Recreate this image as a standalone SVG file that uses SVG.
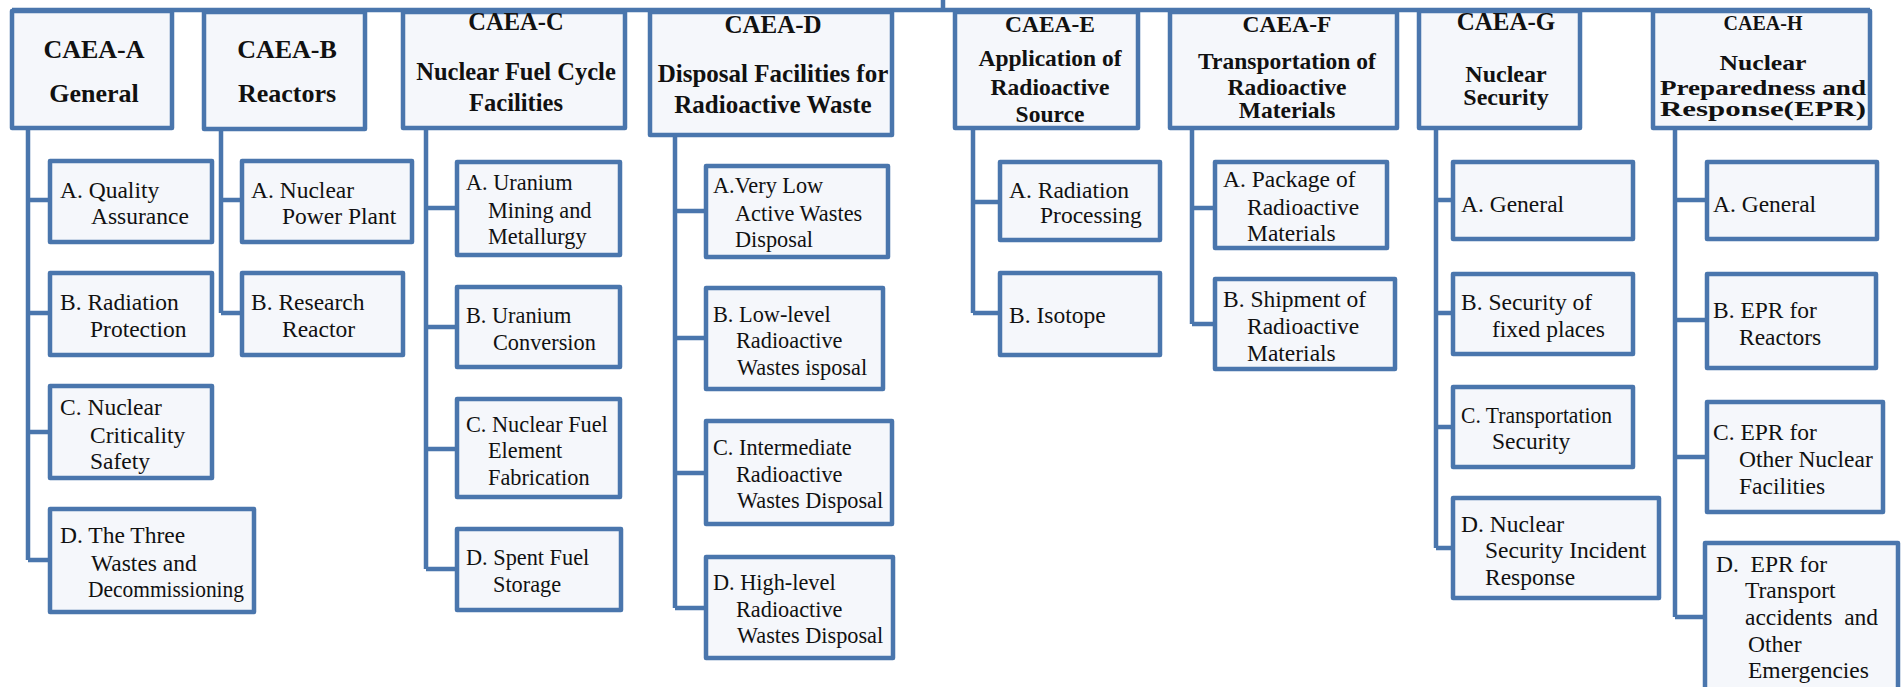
<svg xmlns="http://www.w3.org/2000/svg" width="1903" height="687" viewBox="0 0 1903 687">
<style>
.bx{fill:#f5f7fb;stroke:#4a76ad;stroke-width:4.5;stroke-linejoin:round}
.cn{fill:none;stroke:#4a76ad;stroke-width:4.5;stroke-linejoin:round}
.h{font-family:"Liberation Serif","Times New Roman",serif;font-weight:bold;fill:#111;text-anchor:middle}
.t{font-family:"Liberation Serif","Times New Roman",serif;font-size:23.5px;fill:#111}
.s{font-size:22.3px}
</style>
<rect width="1903" height="687" fill="#ffffff"/>
<g id="connectors">
<path class="cn" d="M943,0V10M12,10H1870"/>
<path class="cn" d="M28,128V560M28,200H50M28,313H50M28,432H50M28,560H50"/>
<path class="cn" d="M221,129V313M221,200H242M221,313H242"/>
<path class="cn" d="M426,128V569M426,208H457M426,327H457M426,449H457M426,569H457"/>
<path class="cn" d="M675,135V608M675,211H706M675,338H706M675,473H706M675,608H706"/>
<path class="cn" d="M973,128V313M973,202H1000M973,313H1000"/>
<path class="cn" d="M1192,128V324M1192,208H1215M1192,324H1215"/>
<path class="cn" d="M1436,128V548M1436,200H1453M1436,313H1453M1436,427H1453M1436,548H1453"/>
<path class="cn" d="M1675,128V617M1675,200H1707M1675,320H1707M1675,457H1707M1675,617H1707"/>
</g>
<g id="caea-a">
<rect class="bx" x="12" y="11" width="160" height="117"/>
<text class="h" font-size="26" x="94" y="58">CAEA-A</text>
<text class="h" font-size="26" x="94" y="102">General</text>
</g>
<g id="caea-b">
<rect class="bx" x="204" y="12" width="161" height="117"/>
<text class="h" font-size="26" x="287" y="58">CAEA-B</text>
<text class="h" font-size="26" x="287" y="102">Reactors</text>
</g>
<g id="caea-c">
<rect class="bx" x="403" y="12" width="222" height="116"/>
<text class="h" font-size="24.5" x="516" y="30">CAEA-C</text>
<text class="h" font-size="24.5" x="516" y="80">Nuclear Fuel Cycle</text>
<text class="h" font-size="24.5" x="516" y="111">Facilities</text>
</g>
<g id="caea-d">
<rect class="bx" x="650" y="12" width="242" height="123"/>
<text class="h" font-size="25" x="773" y="33">CAEA-D</text>
<text class="h" font-size="25" x="773" y="82">Disposal Facilities for</text>
<text class="h" font-size="25" x="773" y="113">Radioactive Waste</text>
</g>
<g id="caea-e">
<rect class="bx" x="955" y="12" width="183" height="116"/>
<text class="h" font-size="23.5" x="1050" y="32">CAEA-E</text>
<text class="h" font-size="23.5" x="1050" y="66">Application of</text>
<text class="h" font-size="23.5" x="1050" y="95">Radioactive</text>
<text class="h" font-size="23.5" x="1050" y="122">Source</text>
</g>
<g id="caea-f">
<rect class="bx" x="1170" y="12" width="227" height="116"/>
<text class="h" font-size="23.5" x="1287" y="32">CAEA-F</text>
<text class="h" font-size="23.5" x="1287" y="69">Transportation of</text>
<text class="h" font-size="23.5" x="1287" y="95">Radioactive</text>
<text class="h" font-size="23.5" x="1287" y="118">Materials</text>
</g>
<g id="caea-g">
<rect class="bx" x="1419" y="11" width="161" height="117"/>
<text class="h" font-size="25" x="1506" y="30">CAEA-G</text>
<text class="h" font-size="24" x="1506" y="82">Nuclear</text>
<text class="h" font-size="24" x="1506" y="105">Security</text>
</g>
<g id="caea-h">
<rect class="bx" x="1653" y="11" width="217" height="117"/>
<text class="h" font-size="20" x="1763" y="30">CAEA-H</text>
<text class="h" font-size="21" x="1763" y="70" textLength="87" lengthAdjust="spacingAndGlyphs">Nuclear</text>
<text class="h" font-size="21" x="1763" y="95" textLength="206" lengthAdjust="spacingAndGlyphs">Preparedness and</text>
<text class="h" font-size="21" x="1763" y="116" textLength="206" lengthAdjust="spacingAndGlyphs">Response(EPR)</text>
</g>
<g id="a-a"><rect class="bx" x="50" y="161" width="162" height="81"/>
<text class="t" x="60" y="198">A. Quality</text><text class="t" x="91" y="224">Assurance</text></g>
<g id="a-b"><rect class="bx" x="50" y="273" width="162" height="82"/>
<text class="t" x="60" y="310">B. Radiation</text><text class="t" x="90" y="337">Protection</text></g>
<g id="a-c"><rect class="bx" x="50" y="386" width="162" height="92"/>
<text class="t" x="60" y="415">C. Nuclear</text><text class="t" x="90" y="443">Criticality</text><text class="t" x="90" y="469">Safety</text></g>
<g id="a-d"><rect class="bx" x="50" y="509" width="204" height="103"/>
<text class="t" x="60" y="543">D. The Three</text><text class="t" x="91" y="571">Wastes and</text><text class="t" x="88" y="597" textLength="156" lengthAdjust="spacingAndGlyphs">Decommissioning</text></g>
<g id="b-a"><rect class="bx" x="242" y="161" width="170" height="81"/>
<text class="t" x="251" y="198">A. Nuclear</text><text class="t" x="282" y="224">Power Plant</text></g>
<g id="b-b"><rect class="bx" x="242" y="273" width="161" height="82"/>
<text class="t" x="251" y="310">B. Research</text><text class="t" x="282" y="337">Reactor</text></g>
<g id="c-a"><rect class="bx" x="457" y="162" width="163" height="93"/>
<text class="t s" x="466" y="190">A. Uranium</text><text class="t s" x="488" y="218">Mining and</text><text class="t s" x="488" y="244">Metallurgy</text></g>
<g id="c-b"><rect class="bx" x="457" y="287" width="163" height="80"/>
<text class="t s" x="466" y="323">B. Uranium</text><text class="t s" x="493" y="350">Conversion</text></g>
<g id="c-c"><rect class="bx" x="457" y="399" width="163" height="98"/>
<text class="t s" x="466" y="432">C. Nuclear Fuel</text><text class="t s" x="488" y="458">Element</text><text class="t s" x="488" y="485">Fabrication</text></g>
<g id="c-d"><rect class="bx" x="457" y="529" width="164" height="81"/>
<text class="t s" x="466" y="565">D. Spent Fuel</text><text class="t s" x="493" y="592">Storage</text></g>
<g id="d-a"><rect class="bx" x="706" y="166" width="182" height="91"/>
<text class="t s" x="713" y="193">A.Very Low</text><text class="t s" x="735" y="221">Active Wastes</text><text class="t s" x="735" y="247">Disposal</text></g>
<g id="d-b"><rect class="bx" x="706" y="288" width="177" height="101"/>
<text class="t s" x="713" y="322">B. Low-level</text><text class="t s" x="736" y="348">Radioactive</text><text class="t s" x="737" y="375">Wastes isposal</text></g>
<g id="d-c"><rect class="bx" x="706" y="421" width="186" height="103"/>
<text class="t s" x="713" y="455">C. Intermediate</text><text class="t s" x="736" y="482">Radioactive</text><text class="t s" x="737" y="508">Wastes Disposal</text></g>
<g id="d-d"><rect class="bx" x="706" y="557" width="187" height="101"/>
<text class="t s" x="713" y="590">D. High-level</text><text class="t s" x="736" y="617">Radioactive</text><text class="t s" x="737" y="643">Wastes Disposal</text></g>
<g id="e-a"><rect class="bx" x="1000" y="162" width="160" height="78"/>
<text class="t" x="1009" y="198">A. Radiation</text><text class="t" x="1040" y="223">Processing</text></g>
<g id="e-b"><rect class="bx" x="1000" y="273" width="160" height="82"/>
<text class="t" x="1009" y="323">B. Isotope</text></g>
<g id="f-a"><rect class="bx" x="1215" y="162" width="172" height="86"/>
<text class="t" x="1223" y="187">A. Package of</text><text class="t" x="1247" y="215">Radioactive</text><text class="t" x="1247" y="241">Materials</text></g>
<g id="f-b"><rect class="bx" x="1215" y="279" width="180" height="90"/>
<text class="t" x="1223" y="307">B. Shipment of</text><text class="t" x="1247" y="334">Radioactive</text><text class="t" x="1247" y="361">Materials</text></g>
<g id="g-a"><rect class="bx" x="1453" y="162" width="180" height="77"/>
<text class="t" x="1461" y="212">A. General</text></g>
<g id="g-b"><rect class="bx" x="1453" y="274" width="180" height="80"/>
<text class="t" x="1461" y="310">B. Security of</text><text class="t" x="1492" y="337">fixed places</text></g>
<g id="g-c"><rect class="bx" x="1453" y="387" width="180" height="80"/>
<text class="t" x="1461" y="423" textLength="151" lengthAdjust="spacingAndGlyphs">C. Transportation</text><text class="t" x="1492" y="449">Security</text></g>
<g id="g-d"><rect class="bx" x="1453" y="498" width="206" height="100"/>
<text class="t" x="1461" y="532">D. Nuclear</text><text class="t" x="1485" y="558">Security Incident</text><text class="t" x="1485" y="585">Response</text></g>
<g id="h-a"><rect class="bx" x="1707" y="162" width="170" height="77"/>
<text class="t" x="1713" y="212">A. General</text></g>
<g id="h-b"><rect class="bx" x="1707" y="274" width="169" height="94"/>
<text class="t" x="1713" y="318">B. EPR for</text><text class="t" x="1739" y="345">Reactors</text></g>
<g id="h-c"><rect class="bx" x="1707" y="402" width="176" height="110"/>
<text class="t" x="1713" y="440">C. EPR for</text><text class="t" x="1739" y="467">Other Nuclear</text><text class="t" x="1739" y="494">Facilities</text></g>
<g id="h-d"><rect class="bx" x="1705" y="543" width="193" height="160"/>
<text class="t" x="1716" y="572" xml:space="preserve">D.  EPR for</text><text class="t" x="1745" y="598">Transport</text><text class="t" x="1745" y="625" xml:space="preserve">accidents  and</text><text class="t" x="1748" y="652">Other</text><text class="t" x="1748" y="678">Emergencies</text></g>
</svg>
